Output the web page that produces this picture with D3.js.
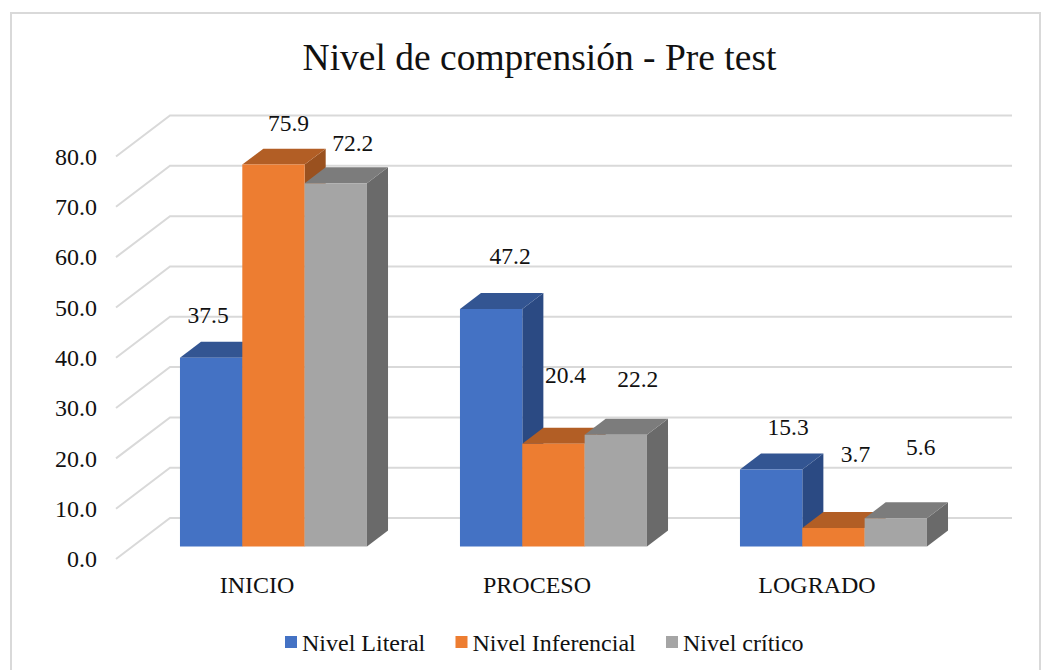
<!DOCTYPE html>
<html>
<head>
<meta charset="utf-8">
<script src="https://cdn.jsdelivr.net/npm/d3@7"></script>
<style>
    body { margin: 0; background: #fff; }
    text { font-family: "Liberation Serif", serif; fill: #111; }
    .axis text { font-size: 24px; font-family: "Liberation Serif", serif; }
    .bar-label { font-size: 23.5px; text-anchor: middle; }
    .legend-label { font-size: 24px; }
    .chart-title { font-size: 37.5px; text-anchor: middle; }
</style>
</head>
<body>
<div id="chart"></div>
<script>
const categories = ['INICIO', 'PROCESO', 'LOGRADO'];
const seriesNames = ['Nivel Literal', 'Nivel Inferencial', 'Nivel crítico'];
const literal = [37.5, 47.2, 15.3];
const inferencial = [75.9, 20.4, 3.7];
const critico = [72.2, 22.2, 5.6];
const seriesValues = [literal, inferencial, critico];
const tickValues = [0, 10, 20, 30, 40, 50, 60, 70, 80];

const width = 1053, height = 670;

// front, top and side shades of each series
const colors = [
    {front: '#4472c4', top: '#335592', side: '#2b4a83'},
    {front: '#ed7d31', top: '#b25e25', side: '#9a511f'},
    {front: '#a5a5a5', top: '#7c7c7c', side: '#6a6a6a'}
];

// label nudges from the centre of the bar front, the picture places them by hand
const labelNudge = [
    [[-3, -35], [15, -34], [17, -32]],
    [[19, -45], [12, -61], [22, -48]],
    [[17, -35], [22, -66], [25, -63]]
];

const svg = d3.select('#chart').append('svg')
    .attr('width', width)
    .attr('height', height);

// outer frame
svg.append('rect')
    .attr('x', 11).attr('y', 13)
    .attr('width', 1029).attr('height', 670)
    .attr('fill', '#fff')
    .attr('stroke', '#d9d9d9')
    .attr('stroke-width', 2);

svg.append('text')
    .attr('class', 'chart-title')
    .attr('x', 539.5).attr('y', 70)
    .text('Nivel de comprensión - Pre test');

const xScale = d3.scaleBand().domain(categories).range([117, 957]);
const yScale = d3.scaleLinear().domain([0, 80]).range([559, 156.5]);
const seriesScale = d3.scaleBand().domain(d3.range(3)).range([0, 187]);

// depth 0 is the front of the floor, 1 the back wall
const depthX = d3.scaleLinear().domain([0, 1]).range([0, 54]);
const depthY = d3.scaleLinear().domain([0, 1]).range([0, -41]);
const barDepth = [0.305, 0.695];

const pt = (x, value, depth) => [x + depthX(depth), yScale(value) + depthY(depth)];
const poly = pts => pts.map(p => p.join(',')).join(' ');

// gridlines run along the left side and the back wall
svg.append('g').selectAll('polyline')
    .data(tickValues)
    .join('polyline')
    .attr('points', d => poly([pt(116, d, 0), pt(116, d, 1), pt(958, d, 1)]))
    .attr('fill', 'none')
    .attr('stroke', '#d9d9d9')
    .attr('stroke-width', 2);

const yAxis = d3.axisLeft(yScale)
    .tickValues(tickValues)
    .tickFormat(d3.format('.1f'))
    .tickSize(0)
    .tickPadding(19);

const xAxis = d3.axisBottom(xScale)
    .tickSize(0)
    .tickPadding(17);

svg.append('g').attr('class', 'axis')
    .attr('transform', 'translate(116,0)')
    .call(yAxis)
    .call(g => g.select('.domain').remove());

svg.append('g').attr('class', 'axis')
    .attr('transform', 'translate(0,559)')
    .call(xAxis)
    .call(g => g.select('.domain').remove());

// bars, left to right so the next bar covers the side of the previous one
const bars = [];
categories.forEach((cat, c) => {
    seriesValues.forEach((vals, s) => {
        bars.push({cat, c, s, value: vals[c]});
    });
});

const barG = svg.append('g').selectAll('g')
    .data(bars)
    .join('g');

const groupLeft = d => xScale(d.cat) + (xScale.bandwidth() - seriesScale.range()[1]) / 2;
const x0 = d => groupLeft(d) + seriesScale(d.s);
const x1 = d => x0(d) + seriesScale.bandwidth();
const [dF, dB] = barDepth;

barG.append('polygon')
    .attr('points', d => poly([pt(x1(d), 0, dF), pt(x1(d), 0, dB), pt(x1(d), d.value, dB), pt(x1(d), d.value, dF)]))
    .attr('fill', d => colors[d.s].side);

barG.append('polygon')
    .attr('points', d => poly([pt(x0(d), d.value, dF), pt(x0(d), d.value, dB), pt(x1(d), d.value, dB), pt(x1(d), d.value, dF)]))
    .attr('fill', d => colors[d.s].top);

barG.append('polygon')
    .attr('points', d => poly([pt(x0(d), 0, dF), pt(x0(d), d.value, dF), pt(x1(d), d.value, dF), pt(x1(d), 0, dF)]))
    .attr('fill', d => colors[d.s].front);

svg.append('g').selectAll('text')
    .data(bars)
    .join('text')
    .attr('class', 'bar-label')
    .attr('x', d => pt((x0(d) + x1(d)) / 2, d.value, dF)[0] + labelNudge[d.c][d.s][0])
    .attr('y', d => pt(x0(d), d.value, dF)[1] + labelNudge[d.c][d.s][1])
    .text(d => d.value.toFixed(1));

// legend
const legendX = d3.scaleOrdinal().domain(seriesNames).range([285, 455.5, 666]);
const legend = svg.append('g').selectAll('g')
    .data(seriesNames)
    .join('g')
    .attr('transform', d => `translate(${legendX(d)},636)`);

legend.append('rect')
    .attr('width', 12).attr('height', 12)
    .attr('fill', (d, i) => colors[i].front);

legend.append('text')
    .attr('class', 'legend-label')
    .attr('x', 17).attr('y', 15)
    .text(d => d);
</script>
</body>
</html>
